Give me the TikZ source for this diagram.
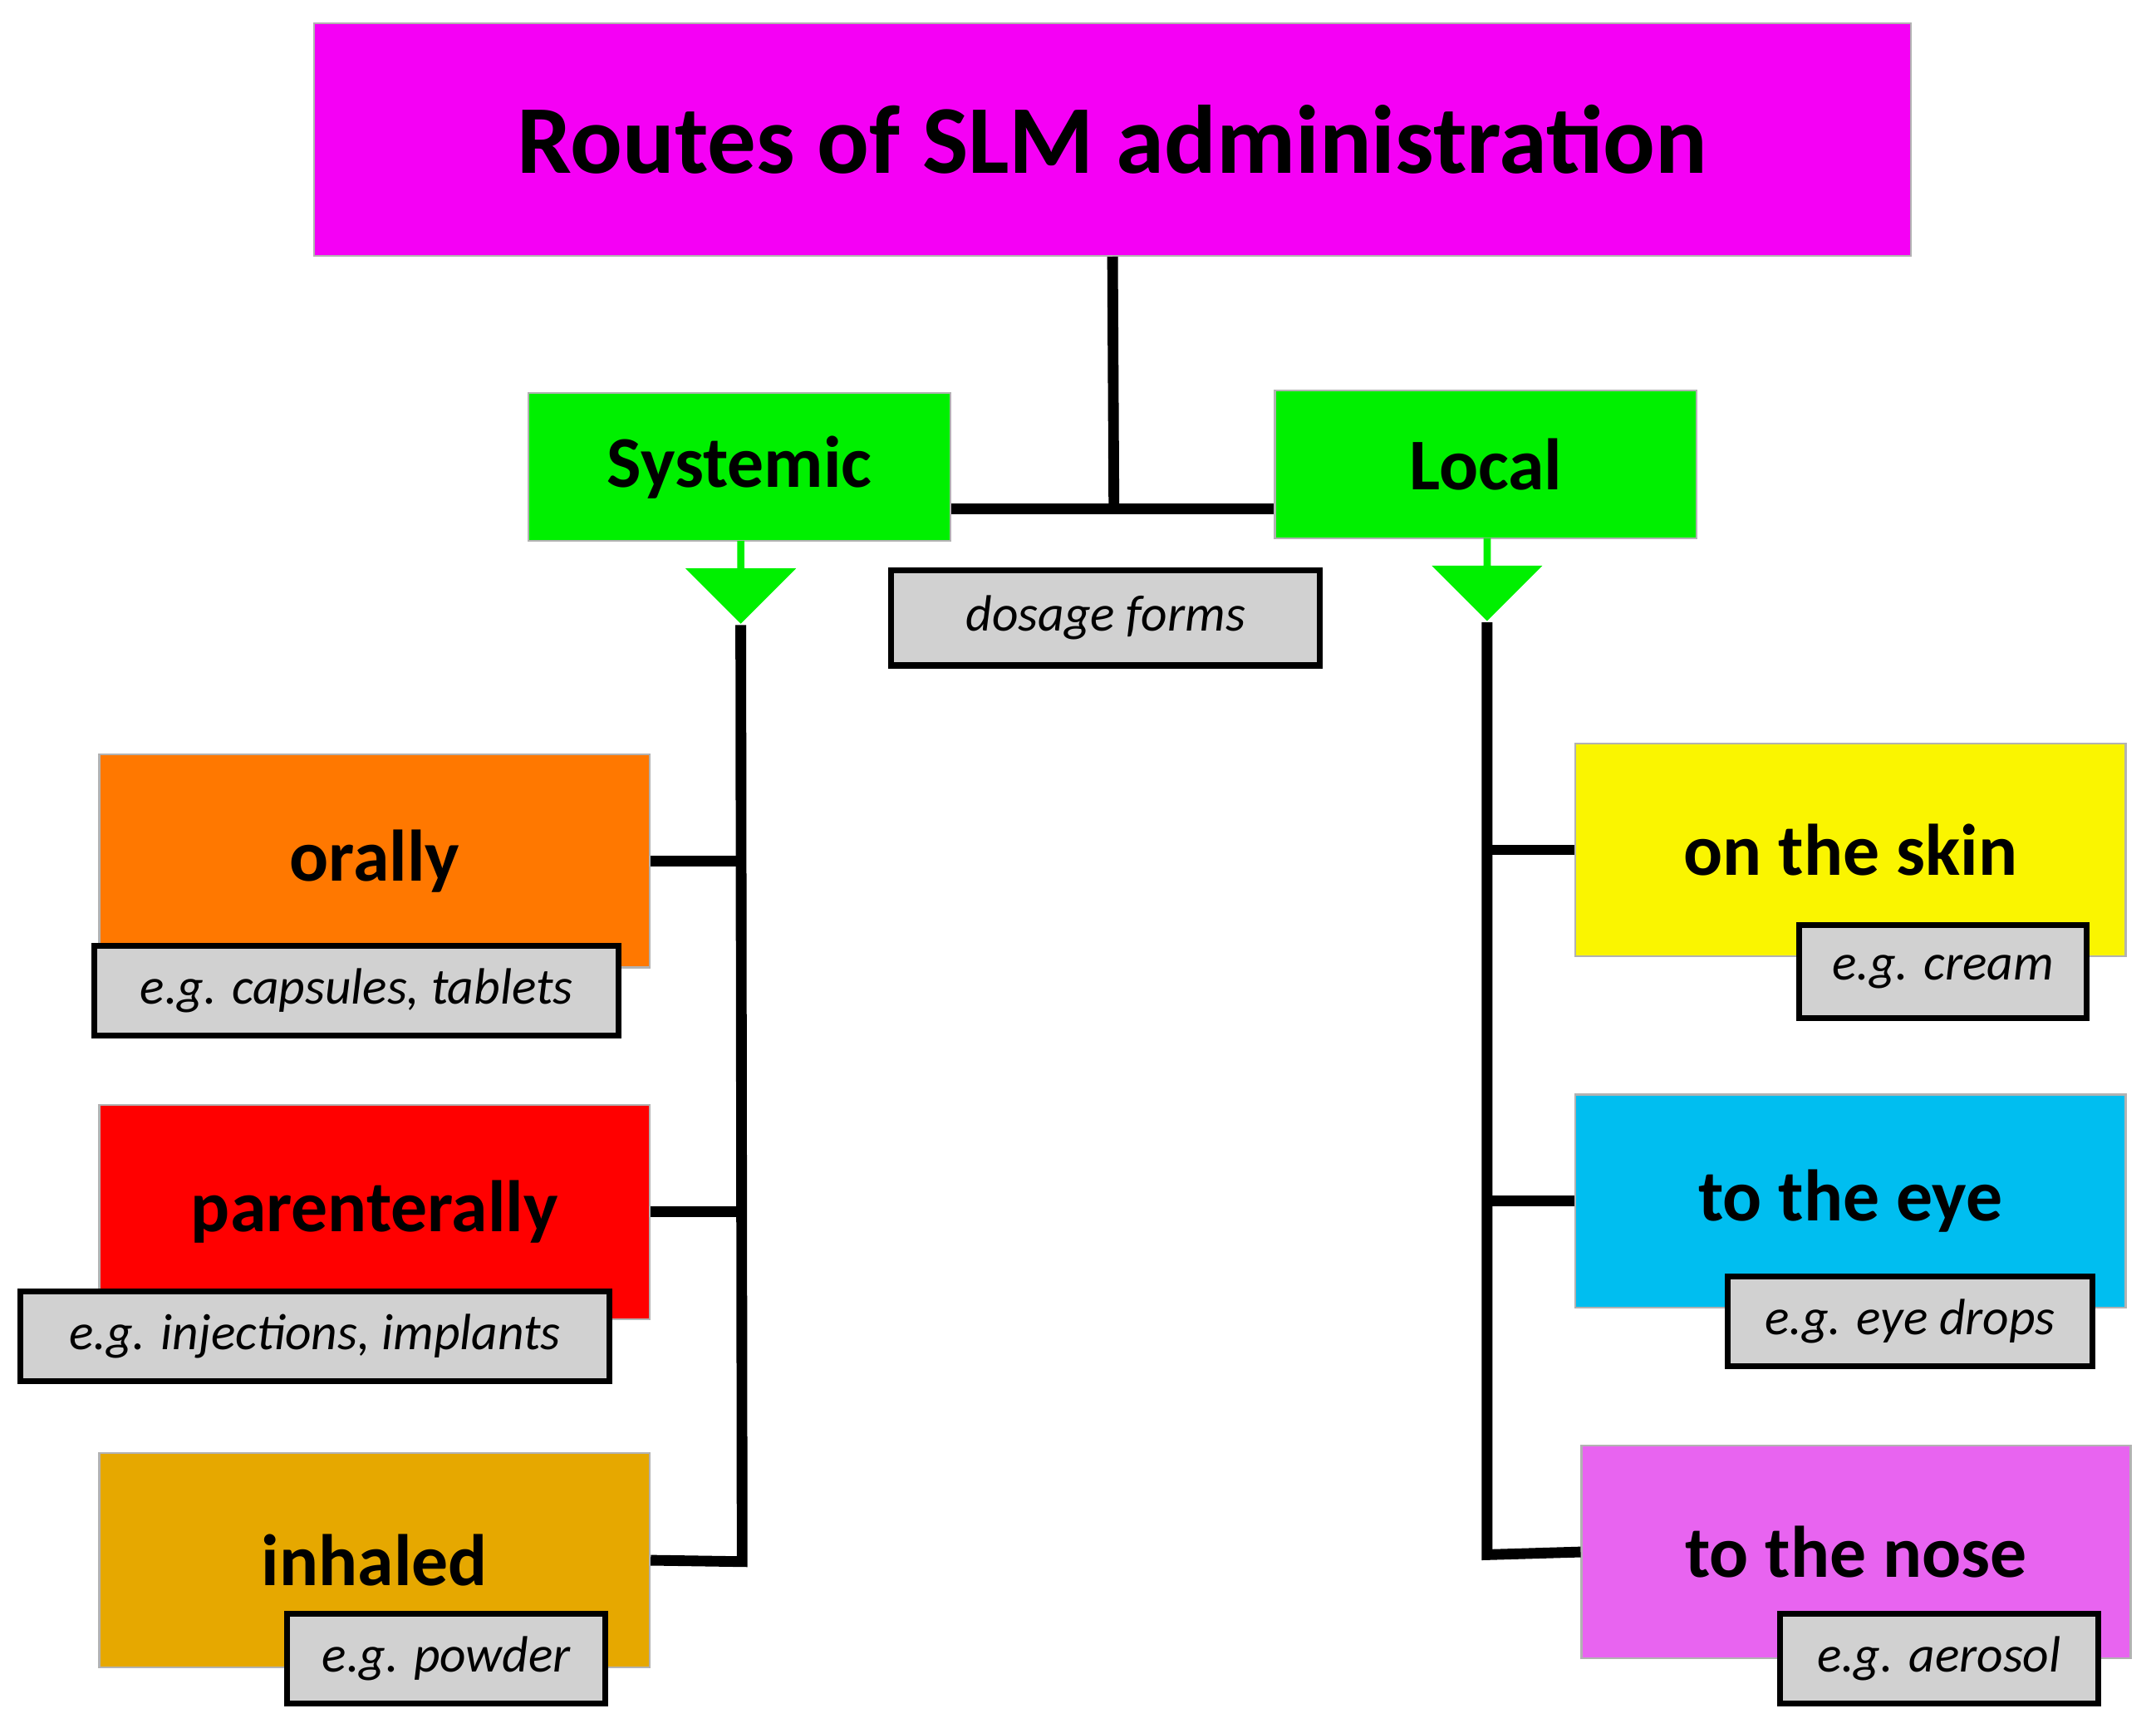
\documentclass[tikz,border=0pt]{standalone}
\usepackage{fontspec}
\setmainfont{Carlito}
\usetikzlibrary{shapes.arrows}
\definecolor{cmag}{RGB}{245,0,245}
\definecolor{cgreen}{RGB}{0,240,0}
\definecolor{corange}{RGB}{255,120,0}
\definecolor{cred}{RGB}{255,0,0}
\definecolor{cgold}{RGB}{230,168,0}
\definecolor{cyel}{RGB}{250,245,0}
\definecolor{ccyan}{RGB}{0,190,240}
\definecolor{cviol}{RGB}{232,100,240}
\tikzset{
  box/.style={rectangle, draw=black!30, inner sep=0pt, font=\fontsize{15}{18}\selectfont\bfseries},
  ex/.style={rectangle, draw=black, very thick, fill=black!18, inner sep=0pt, font=\fontsize{10.5}{12}\selectfont\itshape},
  link/.style={line width=2.2pt, black},
  down/.style={single arrow, draw=none, fill=cgreen, rotate=-90, minimum height=0.6cm, minimum width=0.8cm, single arrow head extend=0.1cm, inner sep=0pt}
}
\begin{document}
\begin{tikzpicture}[x=0.01cm, y=-0.01cm]
  \useasboundingbox (0,0) rectangle (1560,1254);
  % top level
  \node[box, fill=cmag, minimum width=11.55cm, minimum height=1.68cm, font=\fontsize{20}{24}\selectfont\bfseries] (title) at (805,101) {Routes of SLM administration};
  \node[box, fill=cgreen, minimum width=3.05cm, minimum height=1.07cm] (sys) at (535,338) {Systemic};
  \node[box, fill=cgreen, minimum width=3.05cm, minimum height=1.07cm] (loc) at (1075,336) {Local};
  \node[down] (asys) at (536,420) {};
  \node[down] (aloc) at (1076,418) {};
  \node[ex, minimum width=3.1cm, minimum height=0.69cm] (dos) at (800,447) {dosage forms};
  \coordinate (j) at (806,368);
  \draw[link] (title.south) -- (j);
  \draw[link] (sys.east |- j) -- (loc.west |- j);
  % systemic
  \node[box, fill=corange, minimum width=3.98cm, minimum height=1.54cm] (oral) at (271,623) {orally};
  \node[ex, minimum width=3.79cm, minimum height=0.65cm] (exoral) at (258,717) {e.g. capsules, tablets};
  \node[box, fill=cred, minimum width=3.98cm, minimum height=1.55cm] (par) at (271,877) {parenterally};
  \node[ex, minimum width=4.26cm, minimum height=0.65cm] (expar) at (228,967) {e.g. injections, implants};
  \node[box, fill=cgold, minimum width=3.98cm, minimum height=1.55cm] (inh) at (271,1129) {inhaled};
  \node[ex, minimum width=2.30cm, minimum height=0.65cm] (exinh) at (323,1200) {e.g. powder};
  \coordinate (sb) at (537,1130);
  \draw[link] (asys.east) -- (sb) -- (inh.east);
  \draw[link] (oral.east) -- (oral.east -| sb);
  \draw[link] (par.east) -- (par.east -| sb);
  % local
  \node[box, fill=cyel, minimum width=3.98cm, minimum height=1.54cm] (skin) at (1339,615) {on the skin};
  \node[ex, minimum width=2.08cm, minimum height=0.67cm] (exskin) at (1406,703) {e.g. cream};
  \node[box, fill=ccyan, minimum width=3.98cm, minimum height=1.54cm] (eye) at (1339,869) {to the eye};
  \node[ex, minimum width=2.64cm, minimum height=0.65cm] (exeye) at (1382,956) {e.g. eye drops};
  \node[box, fill=cviol, minimum width=3.97cm, minimum height=1.54cm] (nose) at (1343,1123) {to the nose};
  \node[ex, minimum width=2.30cm, minimum height=0.65cm] (exnose) at (1403,1200) {e.g. aerosol};
  \coordinate (lb) at (1076,1125);
  \draw[link] (aloc.east) -- (lb) -- (nose.west);
  \draw[link] (skin.west) -- (skin.west -| lb);
  \draw[link] (eye.west) -- (eye.west -| lb);
\end{tikzpicture}
\end{document}
